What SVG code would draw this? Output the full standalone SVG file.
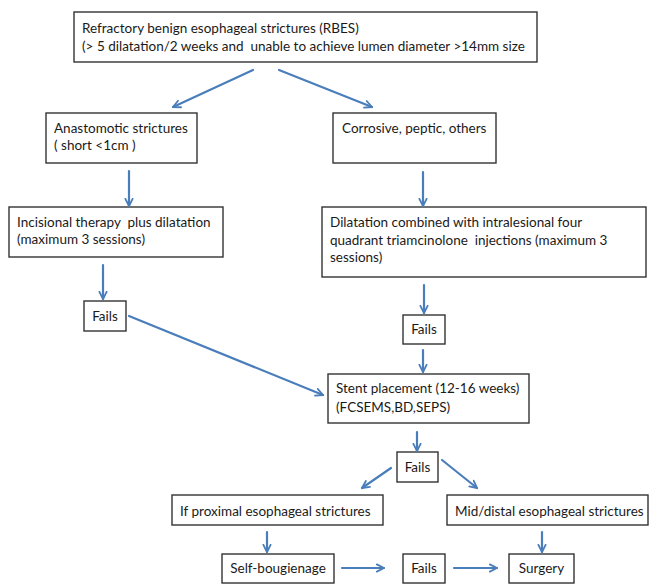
<svg xmlns="http://www.w3.org/2000/svg" width="650" height="584" viewBox="0 0 650 584">
<style>
.box{fill:#fff;stroke:#333;stroke-width:1.4}
text{font-family:Lato,"Liberation Sans",sans-serif;font-size:13.5px;fill:#1a1a1a;white-space:pre}
.c{text-anchor:middle}
.conn line{stroke:#4a7ebb;stroke-width:2.2;stroke-linecap:round;marker-end:url(#ah)}
</style>
<defs>
<marker id="ah" viewBox="0 0 10 10" refX="9" refY="5" markerWidth="9" markerHeight="10" markerUnits="userSpaceOnUse" orient="auto">
<path d="M1,1 L9,5 L1,9" fill="none" stroke="#4a7ebb" stroke-width="2" stroke-linecap="round" stroke-linejoin="round"/>
</marker>
</defs>
<rect width="650" height="584" fill="#fff"/>
<g id="rbes"><rect class="box" x="74" y="12" width="463" height="50"/>
<text x="82" y="33">Refractory benign esophageal strictures (RBES)</text>
<text x="82" y="51">(&gt; 5 dilatation/2 weeks and  unable to achieve lumen diameter &gt;14mm size</text></g>
<g id="anastomotic"><rect class="box" x="46" y="113" width="151" height="50"/>
<text x="54" y="133">Anastomotic strictures</text>
<text x="54" y="150">( short &lt;1cm )</text></g>
<g id="corrosive"><rect class="box" x="333" y="113" width="163" height="50"/>
<text x="342" y="133">Corrosive, peptic, others</text></g>
<g id="incisional"><rect class="box" x="9" y="207" width="214" height="50"/>
<text x="17" y="227">Incisional therapy  plus dilatation</text>
<text x="17" y="244">(maximum 3 sessions)</text></g>
<g id="dilatation"><rect class="box" x="322" y="207" width="324" height="70"/>
<text x="330" y="227">Dilatation combined with intralesional four</text>
<text x="330" y="245">quadrant triamcinolone  injections (maximum 3</text>
<text x="330" y="262">sessions)</text></g>
<g id="fails1"><rect class="box" x="84" y="301" width="42" height="30"/>
<text class="c" x="105" y="321">Fails</text></g>
<g id="fails2"><rect class="box" x="403" y="315" width="42" height="29"/>
<text class="c" x="424" y="334">Fails</text></g>
<g id="stent"><rect class="box" x="328" y="374" width="201" height="49"/>
<text x="336" y="393">Stent placement (12-16 weeks)</text>
<text x="336" y="412">(FCSEMS,BD,SEPS)</text></g>
<g id="fails3"><rect class="box" x="397" y="452" width="41" height="30"/>
<text class="c" x="417.5" y="472">Fails</text></g>
<g id="proximal"><rect class="box" x="172" y="495" width="211" height="30"/>
<text x="180" y="516">If proximal esophageal strictures</text></g>
<g id="middistal"><rect class="box" x="447" y="495" width="201" height="30"/>
<text x="455" y="516">Mid/distal esophageal strictures</text></g>
<g id="selfboug"><rect class="box" x="222" y="554" width="112" height="29"/>
<text class="c" x="278" y="573">Self-bougienage</text></g>
<g id="fails4"><rect class="box" x="403" y="554" width="42" height="29"/>
<text class="c" x="424" y="573">Fails</text></g>
<g id="surgery"><rect class="box" x="509" y="554" width="65" height="29"/>
<text class="c" x="541.5" y="573">Surgery</text></g>
<g id="connectors" class="conn">
<line x1="253" y1="70" x2="173" y2="107"/>
<line x1="279" y1="70" x2="372" y2="107"/>
<line x1="129" y1="171" x2="129" y2="206"/>
<line x1="423" y1="172" x2="423" y2="206"/>
<line x1="103" y1="265" x2="103" y2="299"/>
<line x1="129" y1="316" x2="323" y2="395"/>
<line x1="424" y1="285" x2="424" y2="313"/>
<line x1="423" y1="350" x2="423" y2="372"/>
<line x1="417" y1="432" x2="417" y2="451"/>
<line x1="391" y1="468" x2="362" y2="488"/>
<line x1="442" y1="460" x2="477" y2="488"/>
<line x1="267" y1="532" x2="267" y2="552"/>
<line x1="342" y1="568" x2="384" y2="568"/>
<line x1="454" y1="568" x2="497" y2="568"/>
<line x1="542" y1="532" x2="542" y2="552"/>
</g>
</svg>
